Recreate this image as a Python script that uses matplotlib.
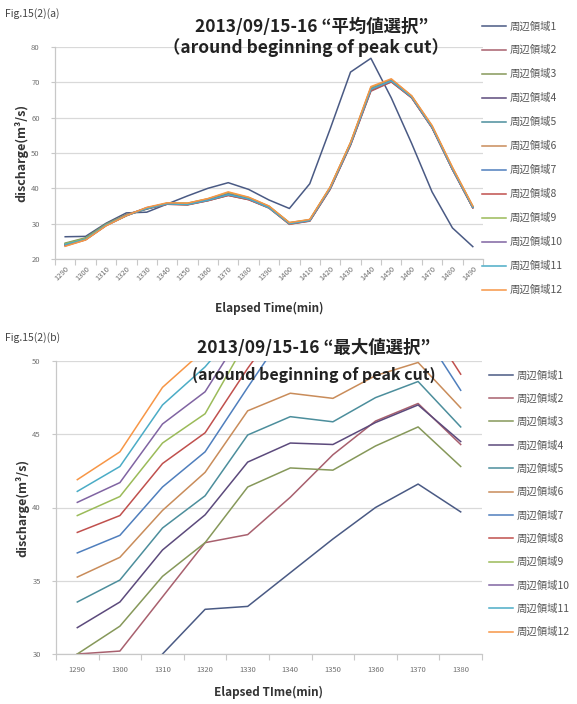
import matplotlib
matplotlib.use('Agg')
import matplotlib.pyplot as plt
from matplotlib.ticker import FixedLocator, MultipleLocator

plt.rcParams['font.family'] = ['Noto Sans CJK JP', 'DejaVu Sans']

W, H = 577, 704

# (a) average-value selection, 1290..1490 min
times_a = [1290, 1300, 1310, 1320, 1330, 1340, 1350, 1360, 1370, 1380, 1390,
           1400, 1410, 1420, 1430, 1440, 1450, 1460, 1470, 1480, 1490]
a1 = [26.3, 26.4, 30.1, 33.05, 33.25, 35.55, 37.85, 40.0, 41.6, 39.7, 36.7, 34.3, 41.3, 56.8, 72.9, 76.8, 65.6, 52.7, 39.0, 28.8, 23.5]
a2 = [24.3, 25.8, 29.8, 32.6, 34.2, 35.5, 35.4, 36.5, 38.0, 36.8, 34.4, 29.9, 30.7, 39.7, 52.2, 67.5, 70.1, 65.7, 57.2, 45.4, 34.5]
a3 = [24.5, 26.0, 29.9, 32.5, 34.1, 35.8, 35.8, 37.0, 38.7, 37.3, 34.9, 30.3, 31.1, 40.3, 52.9, 68.5, 70.8, 66.1, 57.6, 45.8, 34.9]
a4 = [24.1, 25.7, 29.6, 32.4, 34.3, 35.6, 35.5, 36.7, 38.2, 37.0, 34.6, 30.0, 30.9, 40.0, 52.5, 68.0, 70.4, 65.8, 57.3, 45.5, 34.6]
a5 = [23.9, 25.6, 29.5, 32.3, 34.4, 35.7, 35.6, 36.8, 38.5, 37.2, 34.7, 30.1, 31.0, 40.1, 52.7, 68.2, 70.6, 65.9, 57.4, 45.6, 34.7]
a6 = [23.7, 25.4, 29.4, 32.2, 34.5, 35.6, 35.4, 36.6, 38.1, 36.9, 34.5, 29.8, 30.8, 39.9, 52.4, 67.8, 70.3, 65.7, 57.2, 45.4, 34.5]
a7 = [24.2, 25.7, 29.7, 32.4, 34.2, 35.6, 35.6, 36.9, 38.6, 37.2, 34.7, 30.1, 30.9, 40.0, 52.6, 68.1, 70.5, 65.9, 57.4, 45.6, 34.7]
a8 = [24.0, 25.5, 29.5, 32.3, 34.3, 35.5, 35.3, 36.5, 38.0, 36.8, 34.5, 29.9, 30.8, 39.8, 52.3, 67.7, 70.2, 65.6, 57.1, 45.3, 34.5]
a9 = [24.3, 25.8, 29.7, 32.5, 34.4, 35.8, 35.7, 37.0, 38.8, 37.4, 34.9, 30.2, 31.1, 40.2, 52.8, 68.4, 70.7, 66.0, 57.5, 45.7, 34.8]
a10 = [23.8, 25.5, 29.5, 32.4, 34.5, 35.7, 35.5, 36.7, 38.3, 37.0, 34.6, 30.0, 30.9, 40.1, 52.6, 68.1, 70.5, 65.8, 57.3, 45.5, 34.6]
a11 = [24.1, 25.6, 29.6, 32.3, 34.3, 35.6, 35.4, 36.6, 38.2, 37.0, 34.5, 30.0, 30.9, 40.0, 52.5, 68.0, 70.4, 65.8, 57.3, 45.5, 34.6]
a12 = [23.6, 25.4, 29.4, 32.3, 34.6, 35.9, 35.8, 37.1, 39.0, 37.5, 35.0, 30.3, 31.2, 40.4, 53.0, 68.8, 71.0, 66.2, 57.8, 46.0, 35.0]

# (b) max-value selection, 1290..1380 min (values above 50 run off the chart)
times_b = [1290, 1300, 1310, 1320, 1330, 1340, 1350, 1360, 1370, 1380]
b1 = [26.3, 26.4, 30.0, 33.05, 33.25, 35.55, 37.85, 40.0, 41.6, 39.7]
b2 = [30.0, 30.2, 33.9, 37.6, 38.15, 40.7, 43.6, 45.9, 47.1, 44.3]
b3 = [30.0, 31.9, 35.3, 37.6, 41.4, 42.7, 42.55, 44.2, 45.5, 42.8]
b4 = [31.8, 33.55, 37.1, 39.5, 43.1, 44.4, 44.3, 45.8, 47.0, 44.5]
b5 = [33.55, 35.05, 38.6, 40.8, 44.95, 46.2, 45.85, 47.5, 48.6, 45.5]
b6 = [35.25, 36.6, 39.8, 42.4, 46.6, 47.8, 47.45, 49.0, 49.9, 46.8]
b7 = [36.9, 38.1, 41.4, 43.8, 48.2, 52.5, 52.2, 53.5, 52.5, 48.0]
b8 = [38.3, 39.45, 43.0, 45.1, 49.5, 53.5, 53.2, 54.8, 53.6, 49.1]
b9 = [39.45, 40.75, 44.4, 46.4, 51.5, 55.0, 54.6, 56.3, 57.5, 54.5]
b10 = [40.35, 41.7, 45.7, 47.9, 52.5, 56.2, 55.8, 57.4, 58.6, 55.6]
b11 = [41.1, 42.8, 47.0, 49.6, 53.0, 57.4, 57.0, 58.6, 59.8, 56.8]
b12 = [41.9, 43.8, 48.2, 50.8, 54.0, 58.6, 58.2, 59.9, 61.0, 58.0]

labels = ['周辺領域%d' % i for i in range(1, 13)]
colors = ['#4a5a84', '#a8606e', '#86985a', '#5c4a7c', '#4c8e9c', '#c98c5a',
          '#4f7fbd', '#c0504d', '#9bbb59', '#8064a2', '#4bacc6', '#f79646']

series_a = [a1, a2, a3, a4, a5, a6, a7, a8, a9, a10, a11, a12]
series_b = [b1, b2, b3, b4, b5, b6, b7, b8, b9, b10, b11, b12]

fig = plt.figure(figsize=(W / 100, H / 100), dpi=100)


def px_axes(left, top, right, bottom):
    return fig.add_axes([left / W, 1 - bottom / H, (right - left) / W, (bottom - top) / H])


def style_axis(ax, n, ymin, ymax, ystep):
    ax.set_xlim(-0.5, n - 0.5)
    ax.set_ylim(ymin, ymax)
    ax.yaxis.set_major_locator(MultipleLocator(ystep))
    ax.xaxis.set_major_locator(FixedLocator(range(n)))
    ax.xaxis.set_minor_locator(FixedLocator([i + 0.5 for i in range(-1, n)]))
    ax.grid(axis='y', color='#d9d9d9', lw=0.9)
    ax.set_axisbelow(True)
    for s in ['top', 'right']:
        ax.spines[s].set_visible(False)
    for s in ['left', 'bottom']:
        ax.spines[s].set_color('#c8c8c8')
        ax.spines[s].set_linewidth(0.9)
    ax.tick_params(axis='x', which='major', length=0, labelsize=5.5, labelcolor='#707070', pad=4)
    ax.tick_params(axis='x', which='minor', length=4, color='#c8c8c8', width=0.8)
    ax.tick_params(axis='y', length=3, color='#c8c8c8', labelsize=5.5, labelcolor='#707070', pad=8)


# --- (a)
ax1 = px_axes(55, 47, 483, 259)
for i, ys in enumerate(series_a):
    ax1.plot(range(len(times_a)), ys, color=colors[i], lw=1.1, label=labels[i])
style_axis(ax1, len(times_a), 20, 80, 10)
ax1.set_xticklabels([str(t) for t in times_a], rotation=45, ha='right', rotation_mode='anchor')
ax1.set_ylabel('discharge(m³/s)', fontsize=9, fontweight='bold', color='#333333', labelpad=2)
ax1.set_xlabel('Elapsed Time(min)', fontsize=8.5, fontweight='bold', color='#333333', labelpad=14)
ax1.legend(loc='upper left', bbox_to_anchor=(478 / W, 1 - 17 / H), bbox_transform=fig.transFigure,
           frameon=False, fontsize=7.5, handlelength=2.3, handletextpad=0.3, labelspacing=1.32,
           labelcolor='#555555', borderaxespad=0)

# --- (b)
ax2 = px_axes(56, 361, 482, 654)
for i, ys in enumerate(series_b):
    ax2.plot(range(len(times_b)), ys, color=colors[i], lw=1.1, label=labels[i])
style_axis(ax2, len(times_b), 30, 50, 5)
ax2.set_xticklabels([str(t) for t in times_b])
ax2.tick_params(axis='x', which='major', pad=9)
ax2.set_ylabel('discharge(m³/s)', fontsize=9, fontweight='bold', color='#333333', labelpad=2)
ax2.set_xlabel('Elapsed TIme(min)', fontsize=8.5, fontweight='bold', color='#333333', labelpad=8)
ax2.legend(loc='upper left', bbox_to_anchor=(485 / W, 1 - 366 / H), bbox_transform=fig.transFigure,
           frameon=False, fontsize=7.5, handlelength=2.3, handletextpad=0.3, labelspacing=1.26,
           labelcolor='#555555', borderaxespad=0)

# titles and figure tags
fig.text(5 / W, 1 - 14 / H, 'Fig.15(2)(a)', fontsize=7.5, color='#444444', va='center')
fig.text(312 / W, 1 - 27 / H, '2013/09/15-16 “平均値選択”', fontsize=12.5, fontweight='bold',
         color='#222222', ha='center', va='center')
fig.text(306 / W, 1 - 48 / H, '（around beginning of peak cut）', fontsize=12.5, fontweight='bold',
         color='#222222', ha='center', va='center')

fig.text(5 / W, 1 - 338 / H, 'Fig.15(2)(b)', fontsize=7.5, color='#444444', va='center')
fig.text(314 / W, 1 - 348 / H, '2013/09/15-16 “最大値選択”', fontsize=12.5, fontweight='bold',
         color='#222222', ha='center', va='center', zorder=5)
fig.text(314 / W, 1 - 375 / H, '(around beginning of peak cut)', fontsize=11.5, fontweight='bold',
         color='#222222', ha='center', va='center', zorder=5)

fig.savefig('out.png', dpi=100)
